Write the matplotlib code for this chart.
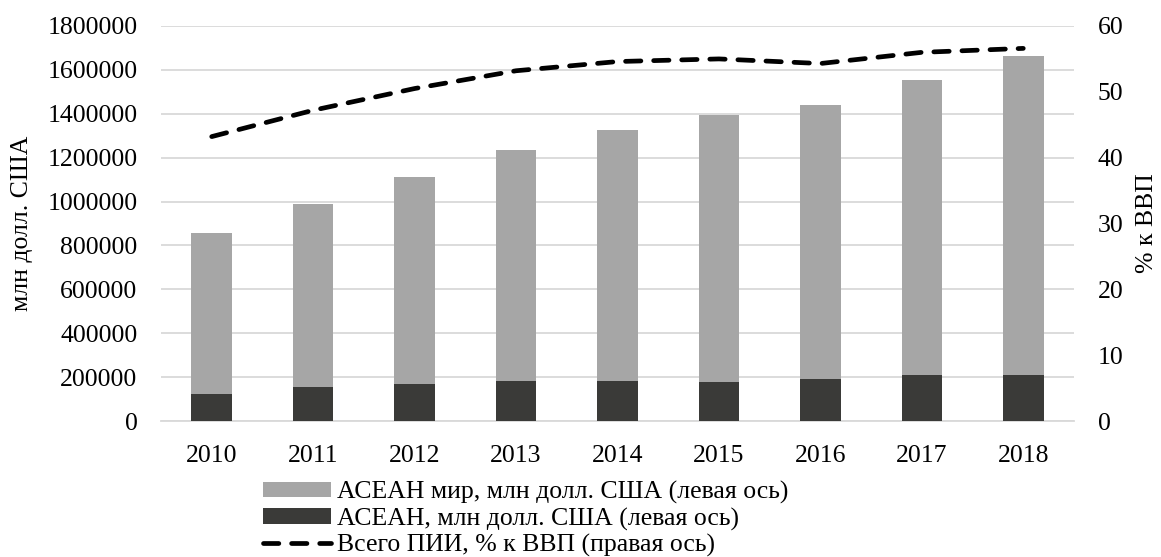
import matplotlib
matplotlib.use("Agg")
import matplotlib.pyplot as plt
import numpy as np

years = ["2010", "2011", "2012", "2013", "2014", "2015", "2016", "2017", "2018"]
asean_world = [857000, 989000, 1112000, 1235000, 1325000, 1396000, 1440000, 1552000, 1663000]
asean = [124000, 156000, 169000, 181000, 181000, 176000, 191000, 208000, 210000]
fdi_gdp = [43.2, 47.2, 50.5, 53.2, 54.6, 55.0, 54.3, 56.0, 56.6]

left_ticks = list(range(0, 1800001, 200000))
right_ticks = list(range(0, 61, 10))

label_world = "АСЕАН мир, млн долл. США (левая ось)"
label_asean = "АСЕАН, млн долл. США (левая ось)"
label_line = "Всего ПИИ, % к ВВП (правая ось)"

plt.rcParams['font.family'] = ['Liberation Serif', 'DejaVu Serif']
FS = 18.5

fig = plt.figure(figsize=(11.61, 5.57), dpi=100)
ax = fig.add_axes([161/1161, 1 - 421/557, (1074-161)/1161, (421-26)/557])
ax2 = ax.twinx()

x = np.arange(len(years))
grid_c = "#d9d9d9"

ax.set_axisbelow(True)
ax.yaxis.grid(True, color=grid_c, linewidth=1.3)
ax.bar(x, asean_world, width=0.4, color="#a6a6a6", label=label_world, zorder=2)
ax.bar(x, asean, width=0.4, color="#3a3a38", label=label_asean, zorder=3)

ax.set_ylim(0, 1800000)
ax.set_yticks(left_ticks)
ax.set_yticklabels([str(v) for v in left_ticks])
ax.set_xlim(-0.5, len(years) - 0.5)
ax.set_xticks(x)
ax.set_xticklabels(years)

ax2.plot(x, fdi_gdp, color="black", linewidth=3.4, linestyle=(0, (3.25, 2.7)),
         dash_capstyle="round", label=label_line, zorder=4)
ax2.set_ylim(0, 60)
ax2.set_yticks(right_ticks)

for a in (ax, ax2):
    for s in a.spines.values():
        s.set_visible(False)
ax.spines['bottom'].set_visible(True)
ax.spines['bottom'].set_color(grid_c)
ax.spines['bottom'].set_linewidth(1.3)

ax.tick_params(axis='y', length=0, pad=17, labelsize=FS)
ax.tick_params(axis='x', length=0, pad=17, labelsize=FS)
ax2.tick_params(axis='y', length=0, pad=17, labelsize=FS)

ax.set_ylabel("млн долл. США", fontsize=FS)
ax2.set_ylabel("% к ВВП", fontsize=FS)

ax.yaxis.set_label_coords(-(161-22)/(1074-161), 0.5)
ax2.yaxis.set_label_coords(1 + (1147-1074)/(1074-161), 0.5)
ax.yaxis.label.set_va('center')
ax2.yaxis.label.set_va('center')

h1, l1 = ax.get_legend_handles_labels()
h2, l2 = ax2.get_legend_handles_labels()
fig.legend(h1 + h2, l1 + l2, loc='upper left',
           bbox_to_anchor=(262.7/1161, 1 - 481/557), bbox_transform=fig.transFigure,
           frameon=False, fontsize=FS, borderpad=0, borderaxespad=0,
           handlelength=2.65, handleheight=0.54, handletextpad=0.25,
           labelspacing=0.13)

fig.savefig("out.png", dpi=100)
